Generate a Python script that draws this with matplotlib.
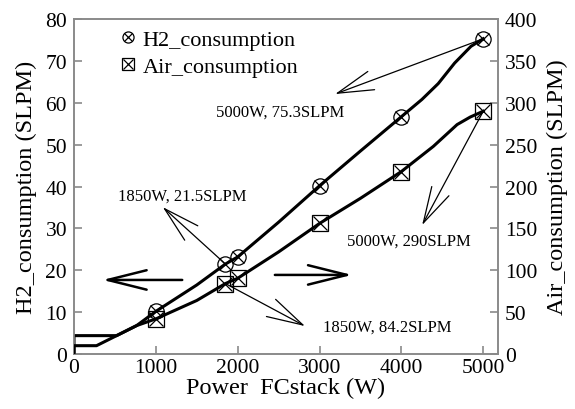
import matplotlib
matplotlib.use("Agg")
import matplotlib.pyplot as plt
from matplotlib.lines import Line2D
from matplotlib.legend_handler import HandlerTuple

plt.rcParams["font.family"] = ["Liberation Serif", "DejaVu Serif"]

# H2 consumption curve (SLPM, left axis)
h2_power = [0, 0, 520, 765, 1000, 1500, 1850, 2000, 2500, 3000, 3500, 4000, 4250, 4450, 4650, 4850, 5000]
h2_flow = [0, 4.4, 4.4, 6.8, 10.2, 16.5, 21.5, 23.2, 31.5, 40.2, 48.5, 56.7, 60.8, 64.6, 69.5, 73.5, 75.3]

# Air consumption curve (SLPM, right axis)
air_power = [0, 0, 275, 500, 765, 1000, 1500, 1850, 2000, 2500, 3000, 3500, 4000, 4390, 4680, 4840, 5000]
air_flow = [0, 10, 10, 21, 34, 42, 64, 84.2, 90.5, 122, 156, 186, 218, 248, 274, 283, 290]

# marker points
mark_power = [1000, 1850, 2000, 3000, 4000, 5000]
h2_marks = [10.2, 21.5, 23.2, 40.2, 56.7, 75.3]
air_marks = [42, 84.2, 90.5, 156, 218, 290]

fig = plt.figure(figsize=(5.75, 4.1), dpi=100)
ax = fig.add_axes([0.1287, 0.134, 0.7374, 0.817])
ax2 = ax.twinx()

ax.plot(h2_power, h2_flow, color="black", lw=2.2, zorder=3)
ax2.plot(air_power, air_flow, color="black", lw=2.2, zorder=3)

mk = dict(ls="none", color="black", mfc="none", mew=0.9)
ax.plot(mark_power, h2_marks, marker="o", ms=11, **mk)
ax.plot(mark_power, h2_marks, marker="x", ms=8, **mk)
ax2.plot(mark_power, air_marks, marker="s", ms=11, **mk)
ax2.plot(mark_power, air_marks, marker="x", ms=10, **mk)

ax.set_xlim(0, 5180)
ax.set_ylim(0, 80)
ax2.set_ylim(0, 400)
ax.set_xticks([0, 1000, 2000, 3000, 4000, 5000])
ax.set_yticks(range(0, 81, 10))
ax2.set_yticks(range(0, 401, 50))

for a in (ax, ax2):
    for s in a.spines.values():
        s.set_color("#8a8a8a")
        s.set_linewidth(1.2)
    a.tick_params(direction="in", length=6, width=1.2, color="#8a8a8a",
                  labelsize=15.5, pad=5)
ax.tick_params(axis="x", pad=3)

ax.set_xlabel("Power  FCstack (W)", fontsize=17.5, labelpad=0)
ax.set_ylabel("H2_consumption (SLPM)", fontsize=17.5, labelpad=6)
ax2.set_ylabel("Air_consumption (SLPM)", fontsize=17.5, labelpad=7)

thin = dict(arrowstyle="->,head_length=2.6,head_width=0.7", color="black", lw=0.9,
            shrinkA=0, shrinkB=0)
thick = dict(arrowstyle="->,head_length=2.8,head_width=0.7", color="black", lw=1.8,
             shrinkA=0, shrinkB=0)

# H2 annotations
ax.annotate("", xy=(3190, 62.1), xytext=(mark_power[5], h2_marks[5]), arrowprops=thin)
ax.text(2515, 58.0, "5000W, 75.3SLPM", fontsize=12, ha="center", va="center")
ax.annotate("", xy=(1084, 35.1), xytext=(mark_power[1], h2_marks[1]), arrowprops=thin)
ax.text(1318, 37.8, "1850W, 21.5SLPM", fontsize=12, ha="center", va="center")
ax.annotate("", xy=(349, 17.7), xytext=(1322, 17.7), arrowprops=thick)
ax.annotate("", xy=(3397, 18.9), xytext=(2454, 18.9), arrowprops=thick)

# Air annotations
ax2.annotate("", xy=(2822, 33.4), xytext=(mark_power[1], air_marks[1]), arrowprops=thin)
ax2.text(3825, 32.5, "1850W, 84.2SLPM", fontsize=12, ha="center", va="center")
ax2.annotate("", xy=(4253, 154), xytext=(mark_power[5], air_marks[5]), arrowprops=thin)
ax2.text(4088, 136, "5000W, 290SLPM", fontsize=12, ha="center", va="center")

h_o = Line2D([], [], ls="none", marker="o", ms=8, mfc="none", mec="black", mew=0.9)
h_x = Line2D([], [], ls="none", marker="x", ms=5.5, mec="black", mew=0.9)
a_s = Line2D([], [], ls="none", marker="s", ms=8, mfc="none", mec="black", mew=0.9)
a_x = Line2D([], [], ls="none", marker="x", ms=7.5, mec="black", mew=0.9)
ax.legend([(h_o, h_x), (a_s, a_x)], ["H2_consumption", "Air_consumption"],
          handler_map={tuple: HandlerTuple(ndivide=1, pad=0)},
          loc="upper left", bbox_to_anchor=(0.072, 1.016), frameon=False,
          fontsize=16, handlelength=0.7, handletextpad=0.3, labelspacing=0.3,
          borderpad=0.2)

fig.savefig("out.png", dpi=100)
